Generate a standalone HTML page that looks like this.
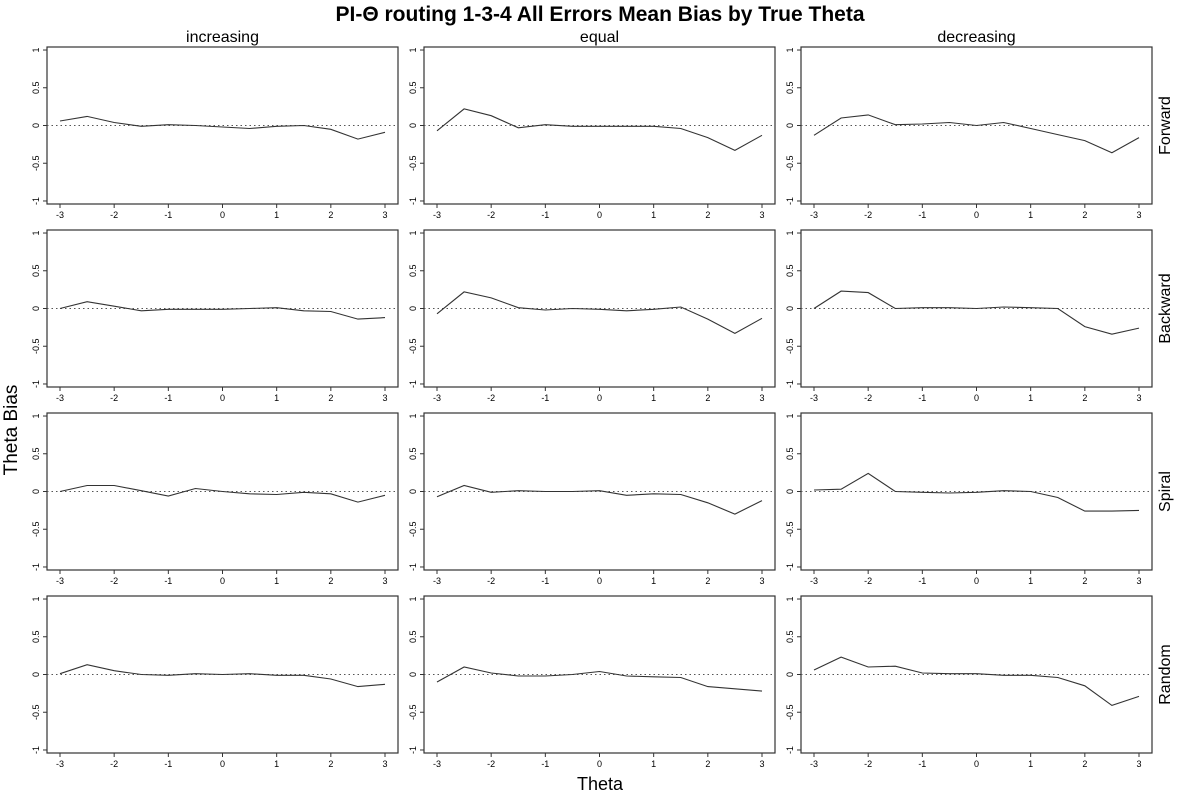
<!DOCTYPE html>
<html><head><meta charset="utf-8"><style>
body{margin:0;background:#fff}
svg text{font-family:"Liberation Sans",sans-serif}
</style></head><body>
<svg id="c" width="1200" height="800" xmlns="http://www.w3.org/2000/svg">
<text x="600" y="21" text-anchor="middle" font-size="21" font-weight="bold">PI-Θ routing 1-3-4 All Errors Mean Bias by True Theta</text>
<text x="12" y="430" font-size="19" text-anchor="middle" transform="rotate(-90 12 430)" dominant-baseline="middle">Theta Bias</text>
<text x="600" y="790" font-size="18" text-anchor="middle">Theta</text>
</svg>
<script>
const thetas=[-3,-2.5,-2,-1.5,-1,-0.5,0,0.5,1,1.5,2,2.5,3];
const colLabels=["increasing","equal","decreasing"];
const rowLabels=["Forward","Backward","Spiral","Random"];
const xTicks=[-3,-2,-1,0,1,2,3];
const yTicks=[-1,-0.5,0,0.5,1];
const forwardInc=[0.06,0.12,0.04,-0.01,0.01,0.00,-0.02,-0.04,-0.01,0.00,-0.05,-0.18,-0.09];
const forwardEq=[-0.07,0.22,0.13,-0.03,0.01,-0.01,-0.01,-0.01,-0.01,-0.04,-0.16,-0.33,-0.13];
const forwardDec=[-0.13,0.10,0.14,0.01,0.02,0.04,0.00,0.04,-0.04,-0.12,-0.20,-0.36,-0.16];
const backwardInc=[0.00,0.09,0.03,-0.03,-0.01,-0.01,-0.01,0.00,0.01,-0.03,-0.04,-0.14,-0.12];
const backwardEq=[-0.07,0.22,0.14,0.01,-0.02,0.00,-0.01,-0.03,-0.01,0.02,-0.14,-0.33,-0.13];
const backwardDec=[0.00,0.23,0.21,0.00,0.01,0.01,0.00,0.02,0.01,0.00,-0.24,-0.34,-0.26];
const spiralInc=[0.00,0.08,0.08,0.01,-0.06,0.04,0.00,-0.03,-0.04,-0.01,-0.03,-0.14,-0.05];
const spiralEq=[-0.07,0.08,-0.01,0.01,0.00,0.00,0.01,-0.05,-0.03,-0.04,-0.15,-0.30,-0.12];
const spiralDec=[0.02,0.03,0.24,0.00,-0.01,-0.02,-0.01,0.01,0.00,-0.08,-0.26,-0.26,-0.25];
const randomInc=[0.01,0.13,0.05,0.00,-0.01,0.01,0.00,0.01,-0.01,-0.01,-0.06,-0.16,-0.13];
const randomEq=[-0.10,0.10,0.02,-0.02,-0.02,0.00,0.04,-0.02,-0.03,-0.04,-0.16,-0.19,-0.22];
const randomDec=[0.06,0.23,0.10,0.11,0.02,0.01,0.01,-0.01,-0.01,-0.04,-0.15,-0.41,-0.29];
const series=[[forwardInc,forwardEq,forwardDec],[backwardInc,backwardEq,backwardDec],[spiralInc,spiralEq,spiralDec],[randomInc,randomEq,randomDec]];

const svg=document.getElementById('c');
const NS="http://www.w3.org/2000/svg";
function mk(t,a,p){const e=document.createElementNS(NS,t);for(const k in a)e.setAttribute(k,a[k]);(p||svg).appendChild(e);return e;}
const W=351,H=157;
colLabels.forEach((c,ci)=>{
  const t=mk('text',{x:47+ci*377+W/2,y:42,'font-size':16,'text-anchor':'middle'});
  t.textContent=c;
  
  
});
rowLabels.forEach((r,ri)=>{
  const top=47+ri*183;
  const x=1166,y=top+H/2;
  const t=mk('text',{x:x,y:y,'font-size':16,'text-anchor':'middle',transform:`rotate(-90 ${x} ${y})`,'dominant-baseline':'middle'});
  t.textContent=r;
  
  
  colLabels.forEach((c,ci)=>{
    const left=47+ci*377;
    const xs=v=>left+13+(v+3)*(W-26)/6;
    const ys=v=>top+H/2-v*(H/2.08);
    const g=mk('g',{});
    
    
    const f=mk('rect',{x:left,y:top,width:W,height:H,fill:'none',stroke:'#333','stroke-width':1.2},g);
    
    
    xTicks.forEach(v=>{
      const l=mk('line',{x1:xs(v),x2:xs(v),y1:top+H,y2:top+H+4,stroke:'#333'},g);
      
      
      const tx=mk('text',{x:xs(v),y:top+H+14,'font-size':9,'text-anchor':'middle'},g);
      tx.textContent=v;
      
      
    });
    yTicks.forEach(v=>{
      const l=mk('line',{x1:left-4,x2:left,y1:ys(v),y2:ys(v),stroke:'#333'},g);
      
      
      const px=left-8,py=ys(v);
      const tx=mk('text',{x:px,y:py,'font-size':9,'text-anchor':'middle',transform:`rotate(-90 ${px} ${py})`},g);
      tx.textContent=v;
      
      
    });
    const z=mk('line',{x1:left,x2:left+W,y1:ys(0),y2:ys(0),stroke:'#555','stroke-dasharray':'1.5,3','stroke-width':1},g);
    
    
    const d=series[ri][ci].map((v,i)=>(i?'L':'M')+xs(thetas[i]).toFixed(1)+','+ys(v).toFixed(1)).join('');
    const p=mk('path',{d:d,fill:'none',stroke:'#333','stroke-width':1.1},g);
    
    
  });
});
</script>
</body></html>
